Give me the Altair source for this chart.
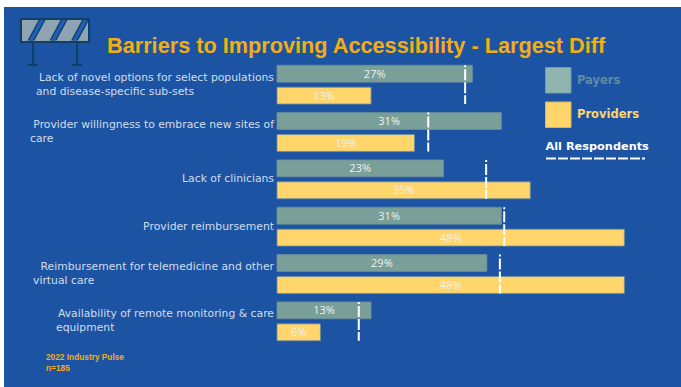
import altair as alt
import pandas as pd

# Survey results: share of respondents naming each barrier
categories = [
    "Lack of novel options",
    "Provider willingness",
    "Lack of clinicians",
    "Provider reimbursement",
    "Telemedicine reimbursement",
    "Remote monitoring",
]
first_lines = [
    "Lack of novel options for select populations",
    "Provider willingness to embrace new sites of",
    "Lack of clinicians",
    "Provider reimbursement",
    "Reimbursement for telemedicine and other",
    "Availability of remote monitoring & care",
]
second_lines = [
    "and disease-specific sub-sets",
    "care",
    "",
    "",
    "virtual care",
    "equipment",
]
payers = [27, 31, 23, 31, 29, 13]
providers = [13, 19, 35, 48, 48, 6]
all_respondents = [26, 20.9, 28.9, 31.4, 30.8, 11.3]
series_names = ["Payers", "Providers"]
title_text = "Barriers to Improving Accessibility - Largest Diff"
source_lines = ["2022 Industry Pulse", "n=185"]

# Canvas layout
PLOT_LEFT, PLOT_TOP = 277, 61
PLOT_W, PLOT_H = 398, 284
SECOND_LINE_X = [36, 30, 0, 0, 33, 56]
LABEL_FONT = "DejaVu Sans"
VALUE_FONT = "Open Sans"
LABEL_SIZE = 10.8

BLUE = "#1C54A3"
NAVY = "#103F68"
PAYER = "#7A9F98"
PROVIDER = "#FFD56C"
AMBER = "#F2AE12"
LABEL = "#D3DDEC"

ONE = pd.DataFrame({"n": [0]})


def px(x):
    return alt.value(x - PLOT_LEFT)


def py(y):
    return alt.value(y - PLOT_TOP)


def caption(text, x, y, size, color, weight="normal", font=LABEL_FONT, align="left"):
    return (
        alt.Chart(ONE)
        .mark_text(text=text, fontSize=size, color=color, fontWeight=weight,
                   font=font, align=align, baseline="middle")
        .encode(x=px(x), y=py(y))
    )


def box(x0, x1, y0, y1, fill, stroke=None, width=0):
    options = {"fill": fill, "strokeWidth": width}
    if stroke:
        options["stroke"] = stroke
    return (
        alt.Chart(ONE)
        .mark_rect(**options)
        .encode(x=px(x0), x2=px(x1), y=py(y0), y2=py(y1))
    )


def segment(x0, x1, y0, y1, color, width, dash=None):
    options = {"color": color, "strokeWidth": width}
    if dash:
        options["strokeDash"] = dash
    return (
        alt.Chart(ONE)
        .mark_rule(**options)
        .encode(x=px(x0), x2=px(x1), y=py(y0), y2=py(y1))
    )


def slanted_stripes(color, offsets, thickness):
    # Parallelograms in the unit square that custom symbol shapes are defined in
    cx, cy, half = 55, 30.5, 34
    parts = []
    for left in offsets:
        corners = [(left, 40.5), (left + thickness, 40.5),
                   (left + thickness + 11, 20), (left + 11, 20)]
        coords = [f"{(a - cx) / half:.3f},{(b - cy) / half:.3f}" for a, b in corners]
        parts.append("M" + "L".join(coords) + "Z")
    path = "".join(parts)
    return (
        alt.Chart(ONE)
        .mark_point(shape=path, size=(2 * half) ** 2, filled=True, fill=color,
                    opacity=1, strokeWidth=0)
        .encode(x=px(cx), y=py(cy))
    )


# Page panel, road-barrier icon and headings
decor = [
    box(4, 681, 7, 387, BLUE),
    box(22, 88, 20, 41, "#8EA4B3"),
    slanted_stripes(NAVY, [27.5, 49.5, 71], 7),
    slanted_stripes("#1F5FB5", [29, 51, 72.5], 4),
    box(21, 89, 19, 42, "transparent", NAVY, 2),
    segment(33, 33, 42, 65, NAVY, 2),
    segment(77, 77, 42, 65, NAVY, 2),
    segment(28, 38, 65, 65, NAVY, 2),
    segment(72, 82, 65, 65, NAVY, 2),
    caption(title_text, 107, 46, 21.7, AMBER, "bold", "Liberation Sans"),
    caption(source_lines[0], 46, 358, 8.3, AMBER, "bold", "Liberation Sans"),
    caption(source_lines[1], 46, 369, 8.3, AMBER, "bold", "Liberation Sans"),
    box(545.5, 571, 67.5, 93, "#90B5B0", "#6F9CA8", 1),
    box(545.5, 571, 102, 127.5, PROVIDER, "#D8B45C", 1),
    caption("Payers", 577, 80.5, 11.5, "#5F8CA3", "bold"),
    caption("Providers", 577, 114.5, 11.5, PROVIDER, "bold"),
    caption("All Respondents", 545.5, 147, 11.3, "#FFFFFF", "bold"),
    segment(546, 645, 158.5, 158.5, "#FFFFFF", 2, [10, 2]),
]

bars = pd.DataFrame(
    {
        "category": categories * 2,
        "series": [series_names[0]] * 6 + [series_names[1]] * 6,
        "value": payers + providers,
    }
)
overall = pd.DataFrame({"category": categories, "value": all_respondents})

y_scale = alt.Scale(paddingInner=0.18, paddingOuter=0.09)
y_axis = alt.Axis(labels=False, ticks=False, domainColor="#2F5F9F", domainWidth=1, grid=False)
y_row = alt.Y("category:N", sort=categories, title=None, scale=y_scale, axis=y_axis)
y_offset = alt.YOffset(
    "series:N", sort=series_names, scale=alt.Scale(paddingInner=0.23, paddingOuter=0)
)
x_share = alt.X(
    "value:Q",
    title=None,
    scale=alt.Scale(domain=[0, 55], nice=False),
    axis=alt.Axis(
        values=list(range(0, 60, 5)),
        labelExpr="datum.value + '%'",
        labelFontSize=5.5,
        labelColor=LABEL,
        labelFont=VALUE_FONT,
        labelPadding=6,
        labelFlush=False,
        ticks=False,
        grid=False,
        domainColor="#2F5F9F",
        domainWidth=1,
    ),
)

bar_layer = (
    alt.Chart(bars)
    .mark_bar(strokeWidth=1, stroke="#6B8F9A", strokeOpacity=0.8)
    .encode(
        x=x_share,
        y=y_row,
        yOffset=y_offset,
        color=alt.Color(
            "series:N",
            scale=alt.Scale(domain=series_names, range=[PAYER, PROVIDER]),
            legend=None,
        ),
    )
)

value_layer = (
    alt.Chart(bars)
    .transform_calculate(mid="datum.value / 2", tag="datum.value + '%'")
    .mark_text(fontSize=11, color="#EEF2F0", font=VALUE_FONT, baseline="middle", dy=1)
    .encode(
        x=alt.X("mid:Q", title=None),
        y=y_row,
        yOffset=y_offset,
        text="tag:N",
    )
)

# Vertical dashed marker across each row's pair of bars
overall_layer = (
    alt.Chart(overall)
    .mark_rule(color="#FFFFFF", strokeWidth=2, strokeDash=[11, 2], strokeDashOffset=9)
    .encode(
        x=alt.X("value:Q", title=None),
        y=alt.Y("category:N", sort=categories, title=None, scale=y_scale, axis=y_axis,
                bandPosition=0),
        y2=alt.Y2("category:N", bandPosition=1),
    )
)

# Row captions: the first line ends at the axis, the second starts under the first
row_captions = []
for cat, first, second, left in zip(categories, first_lines, second_lines, SECOND_LINE_X):
    row = pd.DataFrame({"category": [cat]})
    shift = 7 if second else 0
    row_captions.append(
        alt.Chart(row)
        .mark_text(text=first, align="right", baseline="middle", fontSize=LABEL_SIZE,
                   color=LABEL, font=LABEL_FONT, dy=-shift)
        .encode(x=alt.value(-3), y=y_row)
    )
    if second:
        row_captions.append(
            alt.Chart(row)
            .mark_text(text=second, align="left", baseline="middle", fontSize=LABEL_SIZE,
                       color=LABEL, font=LABEL_FONT, dy=shift)
            .encode(x=px(left), y=y_row)
        )

chart = (
    alt.layer(*decor, bar_layer, value_layer, overall_layer, *row_captions)
    .properties(
        width=PLOT_W,
        height=PLOT_H,
        background="#FFFFFF",
        autosize=alt.AutoSizeParams(type="none"),
        padding={"left": PLOT_LEFT, "top": PLOT_TOP,
                 "right": 681 - PLOT_LEFT - PLOT_W, "bottom": 387 - PLOT_TOP - PLOT_H},
    )
    .configure_view(stroke=None)
)

chart.save("out.html", embed_options={"renderer": "svg", "actions": False})
